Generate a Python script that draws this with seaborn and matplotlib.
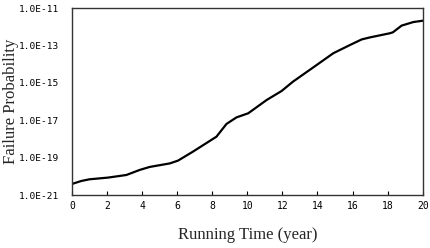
import numpy as np
import pandas as pd
import seaborn as sns
import matplotlib
matplotlib.use("Agg")
import matplotlib.pyplot as plt
from matplotlib.ticker import FixedLocator, FixedFormatter, NullLocator

# Running time (year) and log10 of failure probability
years = [0.0, 0.53, 1.0, 2.05, 3.1, 3.86, 4.43, 5.58, 6.05, 6.9, 8.24, 8.81, 9.38,
         10.05, 11.1, 11.95, 12.6, 13.95, 14.9, 15.85, 16.52, 17.0, 18.13, 18.3,
         18.8, 19.47, 20.0]
log_prob = [-20.41, -20.25, -20.16, -20.07, -19.93, -19.66, -19.50, -19.31, -19.16,
            -18.68, -17.88, -17.20, -16.85, -16.63, -15.92, -15.44, -14.94, -14.05,
            -13.42, -12.98, -12.68, -12.57, -12.35, -12.30, -11.94, -11.75, -11.68]
x_ticks = [0, 2, 4, 6, 8, 10, 12, 14, 16, 18, 20]
y_ticks = [1e-21, 1e-19, 1e-17, 1e-15, 1e-13, 1e-11]
y_tick_labels = ["1.0E-21", "1.0E-19", "1.0E-17", "1.0E-15", "1.0E-13", "1.0E-11"]

df = pd.DataFrame({"year": years, "prob": [10.0 ** v for v in log_prob]})

sns.set_style("ticks")
plt.rcParams["font.family"] = ["Liberation Serif", "DejaVu Serif"]

fig = plt.figure(figsize=(4.3, 2.48), dpi=100)
ax = fig.add_axes([0.1674, 0.2137, 0.8156, 0.754])
sns.lineplot(data=df, x="year", y="prob", ax=ax, color="black", linewidth=1.6)
ax.set_yscale("log")
ax.set_xlim(0, 20)
ax.set_ylim(1e-21, 1e-11)
ax.xaxis.set_major_locator(FixedLocator(x_ticks))
ax.set_xticklabels([str(t) for t in x_ticks], family="DejaVu Sans Mono", fontsize=7)
ax.yaxis.set_major_locator(FixedLocator(y_ticks))
ax.yaxis.set_major_formatter(FixedFormatter(y_tick_labels))
ax.yaxis.set_minor_locator(NullLocator())
for lab in ax.get_yticklabels():
    lab.set_family("DejaVu Sans Mono")
    lab.set_fontsize(6.8)
ax.tick_params(axis="x", direction="in", length=3, width=0.8, pad=4, colors="black")
ax.tick_params(axis="y", direction="in", length=0, width=0.8, pad=9, colors="black")
for s in ax.spines.values():
    s.set_visible(True)
    s.set_color("#333333")
    s.set_linewidth(1.0)
ax.set_xlabel("Running Time (year)", fontsize=12, labelpad=12)
ax.set_ylabel("Failure Probability", fontsize=12)
ax.yaxis.set_label_coords(-0.152, 0.5)
fig.savefig("out.png", dpi=100)
